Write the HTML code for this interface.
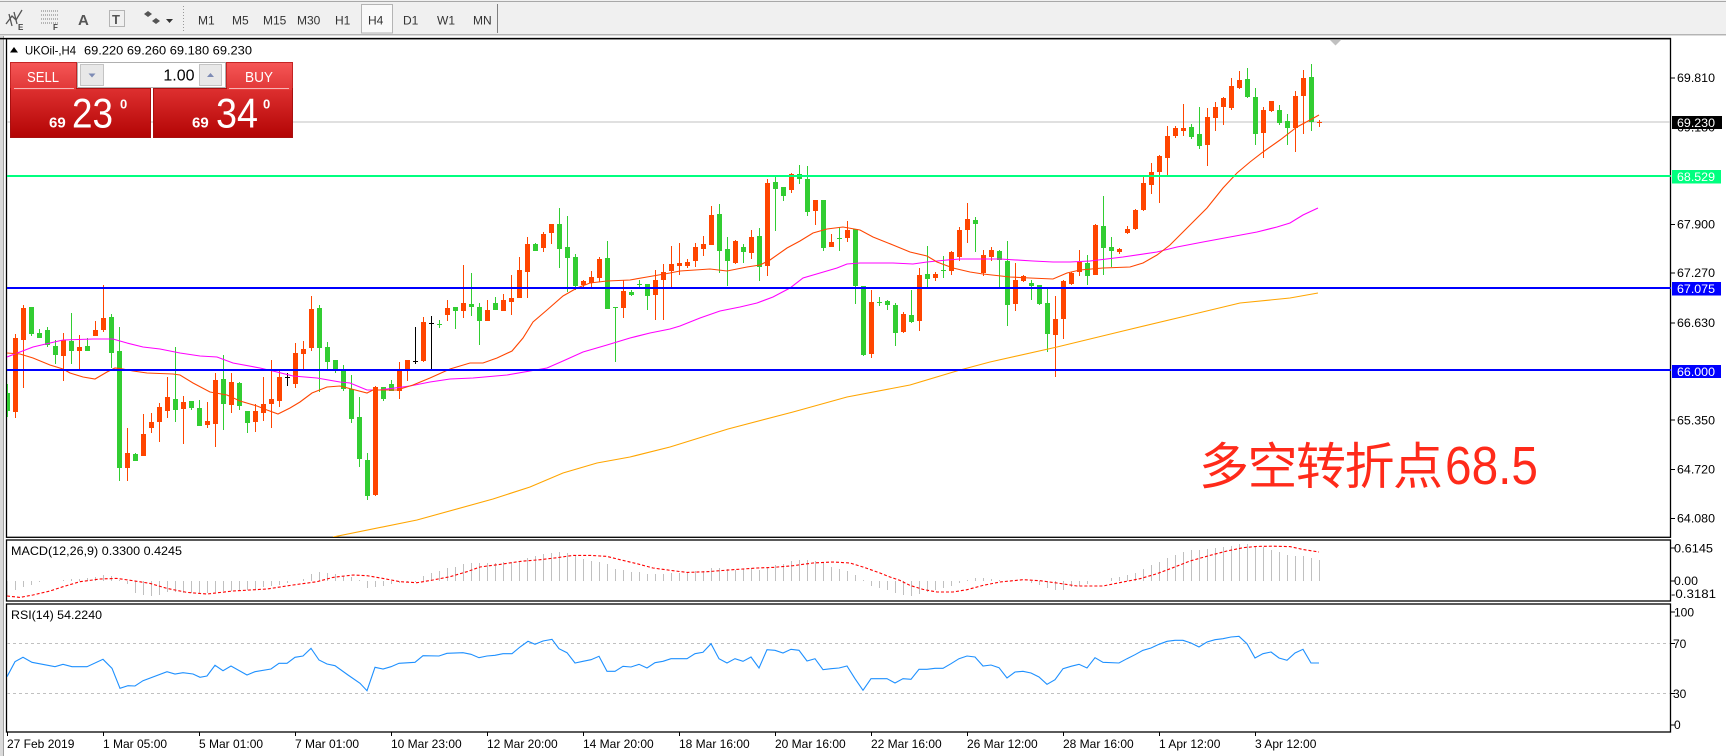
<!DOCTYPE html>
<html>
<head>
<meta charset="utf-8">
<style>
html,body{margin:0;padding:0;background:#fff;width:1726px;height:756px;overflow:hidden;}
svg{display:block;font-family:"Liberation Sans","Noto Sans CJK SC",sans-serif;}
</style>
</head>
<body>
<svg width="1726" height="756" viewBox="0 0 1726 756" xmlns="http://www.w3.org/2000/svg">
<defs>
<clipPath id="cm"><rect x="7" y="39" width="1663" height="498"/></clipPath>
<clipPath id="cd"><rect x="7" y="540" width="1663" height="61"/></clipPath>
<clipPath id="cr"><rect x="7" y="604" width="1663" height="128"/></clipPath>
<linearGradient id="gTop" x1="0" y1="0" x2="0" y2="1"><stop offset="0" stop-color="#F65656"/><stop offset="1" stop-color="#E03838"/></linearGradient>
<linearGradient id="gBot" x1="0" y1="0" x2="0" y2="1"><stop offset="0" stop-color="#DE3030"/><stop offset="1" stop-color="#B30404"/></linearGradient>
</defs>

<!-- toolbar -->
<rect x="0" y="0" width="1726" height="35" fill="#F0F0F0"/>
<line x1="0" y1="1.5" x2="1726" y2="1.5" stroke="#A8A8A8" stroke-width="1"/>
<line x1="0" y1="34.8" x2="1726" y2="34.8" stroke="#A0A0A0" stroke-width="1.2"/>
<g stroke="#555" stroke-width="1.3" fill="none">
<path d="M6 24l6-8 4 4 6-10"/><path d="M9 14l3 12M14 12l3 12"/>
</g>
<text x="18" y="30" font-size="8" font-weight="bold" fill="#444">E</text>
<g stroke="#777" stroke-width="1" stroke-dasharray="1 1">
<path d="M41 11h17M41 15h17M41 19h17M41 23h17"/>
</g>
<text x="53" y="30" font-size="8" font-weight="bold" fill="#444">F</text>
<text x="78" y="25" font-size="15" font-weight="bold" fill="#555">A</text>
<rect x="109.5" y="10.5" width="15" height="16" fill="none" stroke="#777" stroke-dasharray="1 1"/>
<text x="112" y="24" font-size="13" font-weight="bold" fill="#555">T</text>
<path d="M144 14l4-3 4 3-4 3z M152 21l4-3 4 3-4 3z" fill="#555"/>
<path d="M166 19h7l-3.5 4z" fill="#333"/>
<g fill="#999"><rect x="183" y="6" width="1" height="1"/><rect x="183" y="9" width="1" height="1"/><rect x="183" y="12" width="1" height="1"/><rect x="183" y="15" width="1" height="1"/><rect x="183" y="18" width="1" height="1"/><rect x="183" y="21" width="1" height="1"/><rect x="183" y="24" width="1" height="1"/><rect x="183" y="27" width="1" height="1"/><rect x="183" y="30" width="1" height="1"/></g>
<rect x="361.5" y="4.5" width="31" height="28.5" fill="#F9F9F9" stroke="#B4B4B4"/>
<g font-size="12" fill="#333">
<text x="198" y="24.5">M1</text><text x="232" y="24.5">M5</text><text x="263" y="24.5">M15</text><text x="297" y="24.5">M30</text><text x="335" y="24.5">H1</text><text x="368" y="24.5">H4</text><text x="403" y="24.5">D1</text><text x="437" y="24.5">W1</text><text x="473" y="24.5">MN</text>
</g>
<line x1="497.5" y1="4" x2="497.5" y2="33" stroke="#808080"/>

<!-- window edges -->
<rect x="0" y="36" width="3" height="720" fill="#DADADA"/>
<line x1="3.5" y1="36" x2="3.5" y2="756" stroke="#A0A0A0"/>
<line x1="0" y1="38.6" x2="1671" y2="38.6" stroke="#000" stroke-width="1.5"/>

<!-- frames -->
<rect x="6.5" y="38.6" width="1664" height="498.7" fill="none" stroke="#000" stroke-width="1.3"/>
<rect x="6.5" y="540" width="1664" height="61" fill="none" stroke="#000" stroke-width="1.3"/>
<rect x="6.5" y="604" width="1664" height="128" fill="none" stroke="#000" stroke-width="1.3"/>

<!-- main chart -->
<g clip-path="url(#cm)" shape-rendering="crispEdges">
<line x1="7" y1="122" x2="1670" y2="122" stroke="#C0C0C0" stroke-width="1"/>
<path fill="none" stroke="#32CD32" stroke-width="1" d="M7.5 384V417M31.5 307V336M39.5 329V338M47.5 327V347M55.5 340V364M71.5 313V364M87.5 338V351M111.5 314V368M119.5 327V481M135.5 453V461M175.5 347V422M191.5 401V410M199.5 400V426M223.5 355V430M239.5 382V410M247.5 411V433M319.5 305V392M327.5 342V370M335.5 360V373M343.5 365V391M351.5 375V423M359.5 397V467M367.5 453V500M383.5 387V401M391.5 380V391M439.5 320V328M455.5 307V329M471.5 273V316M479.5 303V345M495.5 297V310M535.5 243V251M559.5 208V268M567.5 216V292M575.5 254V290M607.5 241V309M615.5 307V362M631.5 290V296M639.5 280V289M647.5 284V310M719.5 204V273M727.5 237V286M743.5 244V263M759.5 228V281M775.5 175V231M783.5 187V201M799.5 165V184M807.5 166V216M823.5 200V251M839.5 227V251M855.5 229V304M863.5 286V356M879.5 297V306M887.5 300V310M895.5 303V346M911.5 290V323M927.5 246V289M943.5 256V278M975.5 217V252M999.5 250V288M1007.5 241V326M1031.5 280V300M1039.5 285V305M1047.5 289V352M1087.5 255V285M1103.5 196V275M1111.5 237V267M1191.5 124V139M1199.5 107V149M1247.5 68V98M1255.5 88V145M1279.5 105V125M1287.5 114V145M1311.5 64V131"/>
<path fill="#32CD32" d="M5 393h5v18h-5zM29 307h5v27h-5zM37 333h5v5h-5zM45 330h5v15h-5zM53 346h5v9h-5zM69 341h5v10h-5zM85 346h5v5h-5zM109 317h5v36h-5zM117 351h5v117h-5zM133 454h5v7h-5zM173 399h5v11h-5zM189 401h5v7h-5zM197 408h5v18h-5zM221 379h5v25h-5zM237 383h5v23h-5zM245 411h5v12h-5zM317 308h5v40h-5zM325 347h5v15h-5zM333 360h5v9h-5zM341 370h5v19h-5zM349 389h5v30h-5zM357 417h5v42h-5zM365 460h5v36h-5zM381 387h5v12h-5zM389 384h5v7h-5zM437 324h5v1h-5zM453 307h5v4h-5zM469 304h5v3h-5zM477 307h5v14h-5zM493 303h5v7h-5zM533 244h5v7h-5zM557 224h5v25h-5zM565 247h5v11h-5zM573 257h5v29h-5zM605 258h5v51h-5zM613 307h5v1h-5zM629 292h5v3h-5zM637 284h5v1h-5zM645 284h5v12h-5zM717 214h5v37h-5zM725 249h5v12h-5zM741 247h5v5h-5zM757 236h5v31h-5zM773 182h5v7h-5zM781 187h5v9h-5zM797 174h5v5h-5zM805 179h5v33h-5zM821 200h5v48h-5zM837 238h5v1h-5zM853 229h5v57h-5zM861 286h5v69h-5zM877 302h5v1h-5zM885 301h5v4h-5zM893 305h5v28h-5zM909 315h5v7h-5zM925 274h5v5h-5zM941 270h5v1h-5zM973 220h5v4h-5zM997 251h5v9h-5zM1005 261h5v44h-5zM1029 283h5v3h-5zM1037 285h5v19h-5zM1045 303h5v31h-5zM1085 263h5v13h-5zM1101 226h5v22h-5zM1109 247h5v4h-5zM1189 127h5v10h-5zM1197 134h5v12h-5zM1245 79h5v18h-5zM1253 97h5v37h-5zM1277 110h5v13h-5zM1285 121h5v7h-5zM1309 77h5v45h-5z"/>
<path fill="none" stroke="#FF4500" stroke-width="1" d="M15.5 334V418M23.5 305V388M63.5 333V381M79.5 335V370M95.5 321V336M103.5 285V332M127.5 428V481M143.5 414V456M151.5 413V433M159.5 403V442M167.5 377V418M183.5 396V444M207.5 402V428M215.5 373V447M231.5 373V413M255.5 404V432M263.5 377V421M271.5 360V428M279.5 369V407M295.5 343V388M303.5 341V370M311.5 296V351M375.5 386V496M399.5 362V399M407.5 360V381M423.5 317V362M447.5 300V321M463.5 265V318M487.5 300V321M503.5 294V311M511.5 275V315M519.5 257V298M527.5 237V298M543.5 232V252M551.5 224V244M583.5 280V289M591.5 271V289M599.5 257V282M623.5 280V318M655.5 270V320M663.5 264V320M671.5 246V287M679.5 243V275M687.5 259V268M695.5 243V267M703.5 236V256M711.5 206V245M735.5 240V264M751.5 230V259M767.5 179V276M791.5 173V193M815.5 200V225M831.5 234V247M847.5 221V242M871.5 290V358M903.5 312V333M919.5 268V331M935.5 272V281M951.5 251V275M959.5 227V261M967.5 203V243M983.5 250V276M991.5 247V261M1015.5 263V311M1023.5 275V282M1055.5 296V377M1063.5 280V339M1071.5 272V285M1079.5 250V276M1095.5 224V275M1119.5 248V254M1127.5 226V234M1135.5 209V230M1143.5 175V211M1151.5 163V194M1159.5 155V203M1167.5 126V176M1175.5 126V138M1183.5 104V136M1207.5 108V166M1215.5 102V131M1223.5 97V125M1231.5 78V110M1239.5 71V89M1263.5 107V158M1271.5 101V112M1295.5 91V152M1303.5 70V134M1319.5 120V127"/>
<path fill="#FF4500" d="M13 338h5v74h-5zM21 308h5v32h-5zM61 340h5v16h-5zM77 347h5v4h-5zM93 330h5v6h-5zM101 318h5v12h-5zM125 453h5v15h-5zM141 434h5v22h-5zM149 422h5v6h-5zM157 407h5v15h-5zM165 397h5v14h-5zM181 402h5v7h-5zM205 421h5v4h-5zM213 380h5v44h-5zM229 382h5v23h-5zM253 411h5v11h-5zM261 404h5v9h-5zM269 399h5v5h-5zM277 377h5v24h-5zM293 353h5v31h-5zM301 349h5v5h-5zM309 309h5v39h-5zM373 387h5v108h-5zM397 369h5v22h-5zM405 360h5v9h-5zM421 322h5v39h-5zM445 308h5v7h-5zM461 303h5v8h-5zM485 310h5v11h-5zM501 300h5v11h-5zM509 298h5v4h-5zM517 270h5v28h-5zM525 244h5v28h-5zM541 234h5v14h-5zM549 224h5v9h-5zM581 281h5v4h-5zM589 277h5v6h-5zM597 259h5v19h-5zM621 291h5v17h-5zM653 280h5v15h-5zM661 272h5v8h-5zM669 264h5v7h-5zM677 263h5v3h-5zM685 262h5v4h-5zM693 247h5v14h-5zM701 244h5v5h-5zM709 215h5v30h-5zM733 241h5v22h-5zM749 237h5v16h-5zM765 183h5v83h-5zM789 174h5v16h-5zM813 200h5v11h-5zM829 242h5v5h-5zM845 230h5v8h-5zM869 302h5v52h-5zM901 314h5v18h-5zM917 275h5v46h-5zM933 274h5v4h-5zM949 252h5v19h-5zM957 230h5v27h-5zM965 219h5v11h-5zM981 255h5v18h-5zM989 250h5v7h-5zM1013 280h5v24h-5zM1021 276h5v5h-5zM1053 319h5v16h-5zM1061 281h5v38h-5zM1069 273h5v11h-5zM1077 262h5v10h-5zM1093 225h5v50h-5zM1117 249h5v3h-5zM1125 229h5v4h-5zM1133 210h5v19h-5zM1141 183h5v27h-5zM1149 172h5v13h-5zM1157 156h5v16h-5zM1165 136h5v22h-5zM1173 128h5v8h-5zM1181 128h5v3h-5zM1205 117h5v28h-5zM1213 107h5v11h-5zM1221 98h5v9h-5zM1229 86h5v22h-5zM1237 80h5v8h-5zM1261 110h5v23h-5zM1269 101h5v10h-5zM1293 96h5v32h-5zM1301 78h5v18h-5zM1317 122h5v1h-5z"/>
<path fill="none" stroke="#000" stroke-width="1" d="M287.5 373V386M415.5 327V364M431.5 316V369"/>
<path fill="#000" d="M285 377h5v1h-5zM413 361h5v1h-5zM429 323h5v1h-5z"/>
</g>
<g clip-path="url(#cm)" fill="none" stroke-width="1.1">
<path stroke="#FFA500" d="M333 537L417 520L493 499L530 487L563 473L597 463L630 457L670 447L728 429L793 412L847 397L910 385L960 370L990 362L1057 347L1123 331L1190 315L1240 303L1290 298L1318 293"/>
<path stroke="#FF00FF" d="M7 357L20 352L33 347L50 343L63 340L93 339L113 339L127 343L143 347L160 349L180 353L200 356L217 357L233 363L260 368L277 372L293 376L317 378L340 382L350 383L367 390L380 390L410 386L430 382L450 379L473 378L507 375L530 371L547 368L563 361L583 352L607 345L630 338L650 333L670 329L680 326L700 318L720 311L740 307L757 303L773 297L790 288L803 278L820 273L837 268L847 264L860 263L893 263L913 264L927 262L947 260L960 259L1000 259L1033 261L1053 262L1070 262L1090 261L1123 257L1157 252L1177 247L1203 242L1230 237L1257 232L1277 227L1290 223L1303 215L1318 208"/>
<path stroke="#FF4500" d="M7 353L20 354L33 358L50 365L63 369L70 373L83 377L95 379L107 372L115 368L123 369L133 371L147 373L173 374L180 375L193 383L210 392L227 395L240 401L257 406L267 410L278 414L290 408L300 402L312 393L327 387L340 386L367 393L373 390L397 390L413 385L430 378L450 369L470 363L483 363L497 358L512 351L523 338L533 322L547 310L563 296L577 288L590 283L607 281L630 280L647 277L670 273L680 271L710 269L727 271L747 267L760 265L770 260L787 248L800 241L813 233L827 229L843 227L860 230L873 237L893 245L910 252L927 256L937 262L953 268L970 272L983 274L1010 277L1030 278L1053 279L1067 273L1080 270L1103 268L1130 267L1143 263L1157 255L1170 245L1190 225L1207 208L1223 188L1237 173L1250 162L1263 152L1280 140L1297 127L1310 120L1319 115"/>
</g>
<g shape-rendering="crispEdges">
<rect x="7" y="175" width="1664" height="2" fill="#00FF7F"/>
<rect x="7" y="287" width="1664" height="2" fill="#0000FF"/>
<rect x="7" y="369" width="1664" height="2" fill="#0000FF"/>
</g>
<polygon points="1330,40 1341,40 1335.5,45.5" fill="#C0C0C0"/>

<!-- title -->
<polygon points="10,52.5 14,47 18,52.5" fill="#000"/>
<text x="25" y="54.5" font-size="12" fill="#000" textLength="51" lengthAdjust="spacingAndGlyphs">UKOil-,H4</text>
<text x="84" y="54.5" font-size="12" fill="#000" textLength="168" lengthAdjust="spacingAndGlyphs">69.220 69.260 69.180 69.230</text>

<!-- trade panel -->
<rect x="10.5" y="62.5" width="66" height="27" fill="url(#gTop)" stroke="#C42424" stroke-width="1"/>
<rect x="226.5" y="62.5" width="66" height="27" fill="url(#gTop)" stroke="#C42424" stroke-width="1"/>
<rect x="10.5" y="88.5" width="140" height="49" fill="url(#gBot)" stroke="#A81010" stroke-width="1"/>
<rect x="153.5" y="88.5" width="139" height="49" fill="url(#gBot)" stroke="#A81010" stroke-width="1"/>
<rect x="11" y="86" width="65" height="4" fill="#E63A3A"/>
<rect x="227" y="86" width="65" height="4" fill="#E63A3A"/>
<line x1="14" y1="88.5" x2="74" y2="88.5" stroke="#F4B4B4" stroke-width="1"/>
<line x1="229" y1="88.5" x2="289" y2="88.5" stroke="#F4B4B4" stroke-width="1"/>
<rect x="77.5" y="62.5" width="148" height="25" fill="#fff" stroke="#B0B0B0"/>
<rect x="80.5" y="64.5" width="23" height="21" fill="#E8E8E8" stroke="#C4C4C4"/>
<polygon points="88.5,73.5 95.5,73.5 92,77.5" fill="#7D8BB5"/>
<rect x="199.5" y="64.5" width="22" height="21" fill="#E8E8E8" stroke="#C4C4C4"/>
<polygon points="207,77 214,77 210.5,73" fill="#7D8BB5"/>
<text x="194.5" y="80.5" font-size="16" fill="#000" text-anchor="end">1.00</text>
<text x="27" y="82" font-size="15" fill="#fff" textLength="32" lengthAdjust="spacingAndGlyphs">SELL</text>
<text x="245" y="82" font-size="15" fill="#fff" textLength="28" lengthAdjust="spacingAndGlyphs">BUY</text>
<text x="49" y="127.5" font-size="15" font-weight="bold" fill="#fff">69</text>
<text x="72" y="127.5" font-size="42" fill="#fff" textLength="41" lengthAdjust="spacingAndGlyphs">23</text>
<text x="120" y="108.5" font-size="13" font-weight="bold" fill="#fff">0</text>
<text x="192" y="127.5" font-size="15" font-weight="bold" fill="#fff">69</text>
<text x="216" y="127.5" font-size="42" fill="#fff" textLength="42" lengthAdjust="spacingAndGlyphs">34</text>
<text x="263" y="108.5" font-size="13" font-weight="bold" fill="#fff">0</text>

<!-- annotation -->
<text x="1199" y="484" font-size="50" letter-spacing="-1.5" fill="#FF2A1A" font-family="'Noto Sans CJK SC','WenQuanYi Zen Hei',sans-serif">多空转折点</text>
<text x="1445" y="484" font-size="54" fill="#FF2A1A" textLength="93" lengthAdjust="spacingAndGlyphs">68.5</text>

<!-- price axis -->
<g stroke="#000" stroke-width="1" shape-rendering="crispEdges">
<path d="M1671 78h4M1671 224.5h4M1671 273h4M1671 323h4M1671 420h4M1671 469.5h4M1671 518.5h4M1671 548h4M1671 581h4M1671 612h4M1671 643.5h4M1671 693.5h4M1671 725h4"/>
</g>
<g font-size="12" fill="#000">
<text x="1677" y="82" textLength="38" lengthAdjust="spacingAndGlyphs">69.810</text>
<text x="1677" y="131.5" textLength="38" lengthAdjust="spacingAndGlyphs">69.180</text>
<text x="1677" y="228.6" textLength="38" lengthAdjust="spacingAndGlyphs">67.900</text>
<text x="1677" y="277" textLength="38" lengthAdjust="spacingAndGlyphs">67.270</text>
<text x="1677" y="327" textLength="38" lengthAdjust="spacingAndGlyphs">66.630</text>
<text x="1677" y="424.3" textLength="38" lengthAdjust="spacingAndGlyphs">65.350</text>
<text x="1677" y="473.6" textLength="38" lengthAdjust="spacingAndGlyphs">64.720</text>
<text x="1677" y="522.6" textLength="38" lengthAdjust="spacingAndGlyphs">64.080</text>
</g>
<rect x="1672" y="116" width="50" height="13" fill="#000"/>
<text x="1677" y="126.8" font-size="12" fill="#fff" textLength="38" lengthAdjust="spacingAndGlyphs">69.230</text>
<rect x="1672" y="170" width="49" height="13.5" fill="#00FF7F"/>
<text x="1677" y="181" font-size="12" fill="#fff" textLength="38" lengthAdjust="spacingAndGlyphs">68.529</text>
<rect x="1672" y="282" width="49" height="13.5" fill="#0000FF"/>
<text x="1677" y="293" font-size="12" fill="#fff" textLength="38" lengthAdjust="spacingAndGlyphs">67.075</text>
<rect x="1672" y="365" width="49" height="13" fill="#0000FF"/>
<text x="1677" y="375.8" font-size="12" fill="#fff" textLength="38" lengthAdjust="spacingAndGlyphs">66.000</text>

<!-- MACD -->
<g clip-path="url(#cd)">
<path fill="none" stroke="#C0C0C0" stroke-width="1" shape-rendering="crispEdges" d="M7.5 581V596M15.5 581V590M23.5 581V587M31.5 581V585M39.5 581V582M63.5 581V580M71.5 581V579M79.5 581V579M87.5 581V578M95.5 581V577M103.5 581V575M111.5 581V576M119.5 581V580M127.5 581V584M135.5 581V593M143.5 581V595M151.5 581V596M159.5 581V595M167.5 581V592M175.5 581V592M183.5 581V593M191.5 581V593M199.5 581V593M207.5 581V593M215.5 581V592M223.5 581V591M231.5 581V591M239.5 581V590M247.5 581V590M255.5 581V590M263.5 581V587M271.5 581V586M279.5 581V585M287.5 581V583M303.5 581V579M311.5 581V574M319.5 581V572M327.5 581V573M335.5 581V574M343.5 581V576M351.5 581V577M359.5 581V580M367.5 581V588M375.5 581V587M383.5 581V586M391.5 581V584M399.5 581V583M407.5 581V582M415.5 581V582M423.5 581V576M431.5 581V573M439.5 581V571M447.5 581V568M455.5 581V567M463.5 581V564M471.5 581V563M479.5 581V563M487.5 581V563M495.5 581V563M503.5 581V562M511.5 581V562M519.5 581V561M527.5 581V558M535.5 581V556M543.5 581V554M551.5 581V553M559.5 581V552M567.5 581V553M575.5 581V556M583.5 581V559M591.5 581V561M599.5 581V562M607.5 581V564M615.5 581V569M623.5 581V570M631.5 581V572M639.5 581V572M647.5 581V574M655.5 581V574M663.5 581V574M671.5 581V573M679.5 581V573M687.5 581V572M695.5 581V571M703.5 581V571M711.5 581V568M719.5 581V568M727.5 581V569M735.5 581V570M743.5 581V569M751.5 581V568M759.5 581V570M767.5 581V568M775.5 581V565M783.5 581V564M791.5 581V561M799.5 581V560M807.5 581V560M815.5 581V561M823.5 581V563M831.5 581V567M839.5 581V569M847.5 581V571M855.5 581V575M863.5 581V580M871.5 581V586M879.5 581V588M887.5 581V590M895.5 581V593M903.5 581V595M911.5 581V596M919.5 581V594M927.5 581V592M935.5 581V590M943.5 581V588M951.5 581V586M959.5 581V583M967.5 581V580M975.5 581V578M983.5 581V578M991.5 581V579M999.5 581V580M1031.5 581V583M1039.5 581V585M1047.5 581V588M1055.5 581V590M1063.5 581V590M1071.5 581V587M1079.5 581V586M1087.5 581V584M1111.5 581V578M1119.5 581V577M1127.5 581V575M1135.5 581V573M1143.5 581V569M1151.5 581V565M1159.5 581V562M1167.5 581V558M1175.5 581V555M1183.5 581V552M1191.5 581V550M1199.5 581V550M1207.5 581V549M1215.5 581V548M1223.5 581V547M1231.5 581V546M1239.5 581V544M1247.5 581V544M1255.5 581V547M1263.5 581V547M1271.5 581V550M1279.5 581V552M1287.5 581V555M1295.5 581V556M1303.5 581V556M1311.5 581V558M1319.5 581V560"/>
<path fill="none" stroke="#FF0000" stroke-width="1.1" stroke-dasharray="3 2" d="M7 596L20 597.4L33 595L50 591L63 586.7L80 581.7L100 579L117 578.4L133 580.7L150 583.4L167 588.4L187 592.4L207 594L233 591L267 589L293 585L317 581.7L333 577.4L353 575L367 575.7L383 578.4L400 581.7L417 582.7L433 580L450 576.7L467 571.7L480 567L500 564.4L520 561.4L540 559.7L557 557.7L573 555.4L590 555.4L607 556.4L620 559.7L637 563.7L653 568L673 570.7L687 572.4L707 571.7L733 569.7L757 568L773 567.4L793 565.7L813 563L833 562L850 563L863 567L880 573L890 577L900 580.4L910 585.4L923 589.4L937 592L953 592L967 589.7L983 585.4L1000 582L1023 579.7L1040 580.7L1057 583L1077 586L1103 586L1123 582L1140 578.7L1157 573.7L1173 567.7L1190 561L1210 555.4L1227 551L1243 547.7L1257 546.4L1273 546.2L1290 546.6L1303 549.5L1319 552"/>
</g>
<text x="11" y="555" font-size="12" fill="#000" textLength="171" lengthAdjust="spacingAndGlyphs">MACD(12,26,9) 0.3300 0.4245</text>
<g font-size="12" fill="#000">
<text x="1674" y="552.3" textLength="39" lengthAdjust="spacingAndGlyphs">0.6145</text>
<text x="1674" y="585" textLength="24" lengthAdjust="spacingAndGlyphs">0.00</text>
<text x="1671" y="597.8" textLength="45" lengthAdjust="spacingAndGlyphs">-0.3181</text>
</g>

<!-- RSI -->
<g clip-path="url(#cr)">
<path d="M7 643.5H1670M7 693.5H1670" stroke="#C0C0C0" stroke-width="1" stroke-dasharray="3 3" fill="none"/>
<path fill="none" stroke="#1E90FF" stroke-width="1.1" d="M7 676.7L15 661.7L23 657.3L32 662.3L55 666.7L63 664.3L72 666.7L87 666.7L103 659.3L112 668.3L120 688.3L128 685.7L135 686L143 680.7L167 671.7L175 674L183 672.7L193 674L200 677.3L207 676L215 665.3L223 670.7L231 666L247 675L255 671.7L271 669L279 663.3L287 663.3L295 657.3L303 656L311 648.3L319 660L327 664L335 665.7L348 675L360 683.3L367 690.7L375 667.3L383 669L391 666.7L399 663.3L415 662.3L423 655.7L439 656L447 653.3L463 652.7L471 654.3L479 657.7L487 656L495 655.3L503 653.7L512 653.7L520 647L528 641.3L535 644.3L543 641L552 639.3L559 648.7L567 652.7L575 663L583 661.3L591 659.7L599 656.3L607 671.3L615 671.3L623 666.3L631 667L639 664.3L647 668L655 662.7L663 661.3L671 658.7L687 658.7L695 653.7L703 652.3L711 643.7L719 658.7L727 663L735 658.7L743 661.3L751 657L759 668L767 649.7L775 650.3L783 653L791 649.3L799 650.3L807 661L815 658.7L823 669.7L831 668.7L839 668L847 666L855 678.7L863 690.3L871 678.7L887 678.7L895 683L903 678.7L911 679.3L919 669.3L927 669.3L935 668.3L943 668.3L951 663.7L959 658.7L967 656L975 657L983 666L991 665L999 667.7L1007 678L1015 672L1023 671.3L1031 673L1039 677L1047 684.3L1055 679.7L1063 668.7L1071 666.3L1079 664.3L1087 668L1095 657.7L1103 662.3L1119 663L1127 658.7L1135 654.7L1143 650.3L1151 648L1159 644.3L1167 641.3L1175 640.3L1183 640.3L1191 643L1199 647L1207 642L1215 639.7L1223 638.7L1231 637L1239 636.3L1247 643.7L1255 658L1263 653.7L1271 652L1279 658L1287 660.3L1295 653L1303 649.3L1311 663L1319 663"/>
</g>
<text x="11" y="619" font-size="12" fill="#000" textLength="91" lengthAdjust="spacingAndGlyphs">RSI(14) 54.2240</text>
<g font-size="12" fill="#000">
<text x="1674" y="616.3">100</text>
<text x="1673" y="648">70</text>
<text x="1673" y="698">30</text>
<text x="1674" y="729">0</text>
</g>

<!-- time axis -->
<path d="M7.5 732V736M103.5 732V736M199.5 732V736M295.5 732V736M391.5 732V736M487.5 732V736M583.5 732V736M679.5 732V736M775.5 732V736M871.5 732V736M967.5 732V736M1063.5 732V736M1159.5 732V736M1255.5 732V736" stroke="#000" stroke-width="1" shape-rendering="crispEdges"/>
<g font-size="12" fill="#000">
<text x="7" y="748">27 Feb 2019</text>
<text x="103" y="748">1 Mar 05:00</text>
<text x="199" y="748">5 Mar 01:00</text>
<text x="295" y="748">7 Mar 01:00</text>
<text x="391" y="748">10 Mar 23:00</text>
<text x="487" y="748">12 Mar 20:00</text>
<text x="583" y="748">14 Mar 20:00</text>
<text x="679" y="748">18 Mar 16:00</text>
<text x="775" y="748">20 Mar 16:00</text>
<text x="871" y="748">22 Mar 16:00</text>
<text x="967" y="748">26 Mar 12:00</text>
<text x="1063" y="748">28 Mar 16:00</text>
<text x="1159" y="748">1 Apr 12:00</text>
<text x="1255" y="748">3 Apr 12:00</text>
</g>
</svg>
</body>
</html>
